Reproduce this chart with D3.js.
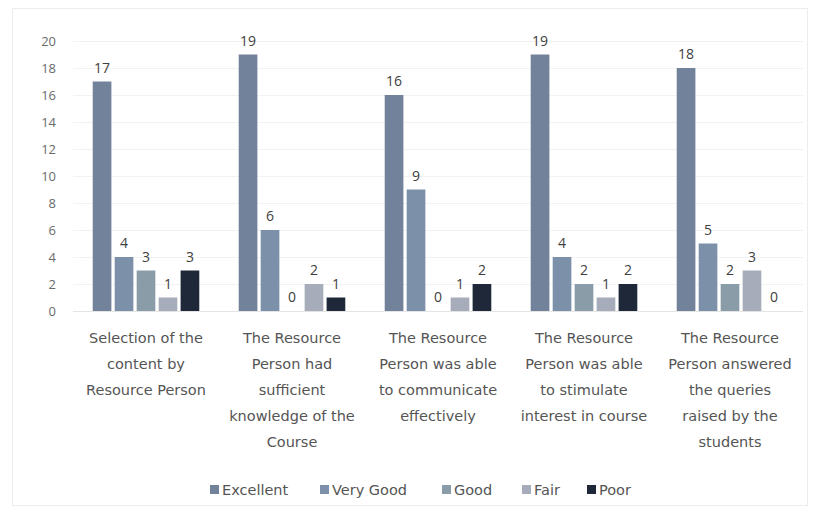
<!DOCTYPE html>
<meta charset="utf-8">
<html>
  <head>
    <title>Resource Person Feedback</title>
    <style>
      body { margin: 0; background: #fff; }
      svg { display: block; }
      .axis-y text { font: 13px 'Open Sans', sans-serif; fill: #6b6b6b; }
      .cat text { font: 14.5px 'DejaVu Sans', sans-serif; fill: #555; }
      .val { font: 14px 'Open Sans', sans-serif; fill: #404040; }
      .legend text { font: 14.5px 'DejaVu Sans', sans-serif; fill: #555; }
    </style>
  </head>
<body>
  <svg width="821" height="519"></svg>
  <script src="https://cdn.jsdelivr.net/npm/d3@7"></script>
  <script>

  // data
  var categories = [
    ["Selection of the", "content by", "Resource Person"],
    ["The Resource", "Person had", "sufficient", "knowledge of the", "Course"],
    ["The Resource", "Person was able", "to communicate", "effectively"],
    ["The Resource", "Person was able", "to stimulate", "interest in course"],
    ["The Resource", "Person answered", "the queries", "raised by the", "students"]
  ];
  var seriesNames = ["Excellent", "Very Good", "Good", "Fair", "Poor"];
  var excellent = [17, 19, 16, 19, 18];
  var veryGood  = [4, 6, 9, 4, 5];
  var good      = [3, 0, 0, 2, 2];
  var fair      = [1, 2, 1, 1, 3];
  var poor      = [3, 1, 2, 2, 0];
  var yTicks = [0, 2, 4, 6, 8, 10, 12, 14, 16, 18, 20];

  var colors = ["#71829a", "#7c90aa", "#8a9ca8", "#a7acba", "#1e2838"];

  var svg = d3.select("svg");

  // faint frame of the scanned chart
  svg.append("rect")
      .attr("x", 12.5).attr("y", 8.5)
      .attr("width", 795).attr("height", 497)
      .attr("fill", "none")
      .attr("stroke", "#ececec");

  var rows = categories.map(function(c, i) {
    return {
      i: i,
      values: [excellent[i], veryGood[i], good[i], fair[i], poor[i]]
    };
  });

  var x0 = d3.scaleBand()
      .domain(d3.range(categories.length))
      .range([73, 803])
      .paddingInner(0.27)
      .paddingOuter(0.135);

  var x1 = d3.scaleBand()
      .domain(seriesNames)
      .range([0, x0.bandwidth()])
      .paddingInner(0.15);

  var y = d3.scaleLinear()
      .domain([0, 20])
      .range([311, 41]);

  // gridlines
  svg.append("g")
    .selectAll("line")
    .data(yTicks.slice(1))
    .enter().append("line")
      .attr("x1", 73).attr("x2", 803)
      .attr("y1", function(d) { return Math.round(y(d)) + 0.5; })
      .attr("y2", function(d) { return Math.round(y(d)) + 0.5; })
      .attr("stroke", "#f2f2f2");

  // y axis, no domain line
  var yAxis = svg.append("g")
      .attr("class", "axis-y")
      .attr("transform", "translate(62,0)")
      .call(d3.axisLeft(y).tickValues(yTicks).tickSize(0).tickPadding(6));
  yAxis.select(".domain").remove();

  // baseline
  svg.append("line")
      .attr("x1", 73).attr("x2", 803)
      .attr("y1", y(0) + 0.5).attr("y2", y(0) + 0.5)
      .attr("stroke", "#e4e4e4");

  var group = svg.selectAll(".grp")
    .data(rows)
    .enter().append("g")
      .attr("class", "grp")
      .attr("transform", function(d) { return "translate(" + x0(d.i) + ",0)"; });

  var cells = group.selectAll("g")
    .data(function(d) {
      return d.values.map(function(v, k) { return { name: seriesNames[k], k: k, v: v }; });
    })
    .enter().append("g");

  cells.append("rect")
      .attr("x", function(d) { return x1(d.name); })
      .attr("y", function(d) { return y(d.v); })
      .attr("width", x1.bandwidth())
      .attr("height", function(d) { return y(0) - y(d.v); })
      .attr("fill", function(d) { return colors[d.k]; });

  cells.append("text")
      .attr("class", "val")
      .attr("x", function(d) { return x1(d.name) + x1.bandwidth() / 2; })
      .attr("y", function(d) { return y(d.v) - 9; })
      .attr("text-anchor", "middle")
      .text(function(d) { return d.v; });

  // category labels
  var cat = svg.append("g").attr("class", "cat");
  cat.selectAll("text")
    .data(categories)
    .enter().append("text")
      .attr("text-anchor", "middle")
      .attr("x", function(d, i) { return x0(i) + x0.bandwidth() / 2; })
      .attr("y", 343)
      .selectAll("tspan")
      .data(function(d) { return d; })
      .enter().append("tspan")
        .attr("x", function() { return d3.select(this.parentNode).attr("x"); })
        .attr("dy", function(d, j) { return j === 0 ? 0 : 26; })
        .text(function(d) { return d; });

  // legend
  var legendX = [210, 320, 442, 522, 587];
  var legend = svg.append("g").attr("class", "legend");
  var item = legend.selectAll("g")
    .data(seriesNames)
    .enter().append("g")
      .attr("transform", function(d, i) { return "translate(" + legendX[i] + ",490)"; });
  item.append("rect")
      .attr("x", 0).attr("y", -5)
      .attr("width", 9).attr("height", 9)
      .attr("fill", function(d, i) { return colors[i]; });
  item.append("text")
      .attr("x", 12).attr("y", 5)
      .text(function(d) { return d; });

  </script>
</body>
</html>
